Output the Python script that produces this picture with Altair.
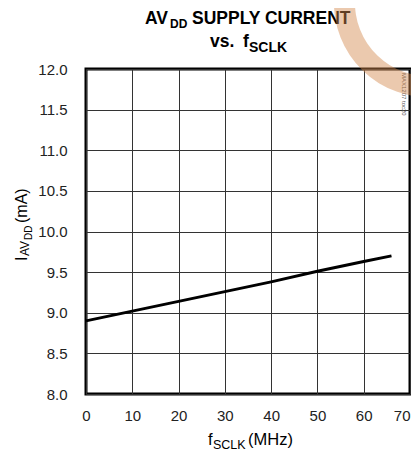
import math
import altair as alt
import pandas as pd

# ---- data ----
fsclk_mhz = [0, 10, 20, 30, 40, 50, 60, 66]
iavdd_ma = [8.90, 9.02, 9.14, 9.26, 9.38, 9.51, 9.63, 9.70]
x_ticks = [0, 10, 20, 30, 40, 50, 60, 70]
y_ticks = [8.0, 8.5, 9.0, 9.5, 10.0, 10.5, 11.0, 11.5, 12.0]

FONT = "Liberation Sans"
W, H = 324, 325

df = pd.DataFrame({"f": fsclk_mhz, "i": iavdd_ma})
one = pd.DataFrame({"k": [0]})

axis_common = dict(
    title=None, grid=True, gridColor="#333333", gridWidth=1, ticks=False,
    domain=False, labelFont=FONT, labelFontSize=15, labelColor="#222222",
    labelFlush=False, labelOverlap=False,
)

line = alt.Chart(df).mark_line(color="black", strokeWidth=3).encode(
    x=alt.X("f:Q", scale=alt.Scale(domain=[0, 70], nice=False),
            axis=alt.Axis(values=x_ticks, format="d", labelPadding=14,
                          labelAlign={"condition": {"test": "datum.value === 70", "value": "right"},
                                      "value": "center"},
                          **axis_common)),
    y=alt.Y("i:Q", scale=alt.Scale(domain=[8, 12], nice=False, zero=False),
            axis=alt.Axis(values=y_ticks, format=".1f", labelPadding=19, **axis_common)),
)


def txt(s, x, y, size, bold=False, angle=0, color="black"):
    props = dict(text=s, font=FONT, fontSize=size, align="left",
                 baseline="alphabetic", color=color,
                 fontWeight="bold" if bold else "normal")
    if angle:
        props["angle"] = angle
    return alt.Chart(one).mark_text(**props).encode(x=alt.value(x), y=alt.value(y))


texts = [
    # title
    txt("AV", 59, -45, 17.5, bold=True),
    txt("DD", 84, -41, 12, bold=True),
    txt("SUPPLY CURRENT", 106, -45, 17.5, bold=True),
    txt("vs.", 124, -22, 17.5, bold=True),
    txt("f", 157, -22, 17.5, bold=True),
    txt("SCLK", 163, -17, 14, bold=True),
    # y title (rotated)
    txt("I", -59, 192, 16, angle=270),
    txt("AV", -57, 187, 12, angle=270),
    txt("DD", -54, 171, 10, angle=270),
    txt("(mA)", -59, 154, 16, angle=270),
    # x title
    txt("f", 122, 376, 16.5),
    txt("SCLK", 127, 380, 12.5),
    txt("(MHz)", 162, 376, 16.5),
    # side note (kept just inside the frame; no room beyond it)
    txt("MAX1207 toc20", W - 8, 4, 6, angle=90, color="#555555"),
]

ring = alt.Chart(one).mark_arc(color="#D2874B", opacity=0.45).encode(
    x=alt.value(342), y=alt.value(-66),
    theta=alt.value(math.pi * 0.9), theta2=alt.value(math.pi * 2),
    radius=alt.value(94), radius2=alt.value(73),
)

chart = alt.layer(line, *texts, ring).properties(
    width=W, height=H,
    autosize=alt.AutoSizeParams(type="none"),
    padding={"left": 78, "top": 61, "right": 1, "bottom": 57},
).configure_view(stroke="black", strokeWidth=3)

chart.save("out.html", embed_options={"renderer": "svg", "actions": False})
